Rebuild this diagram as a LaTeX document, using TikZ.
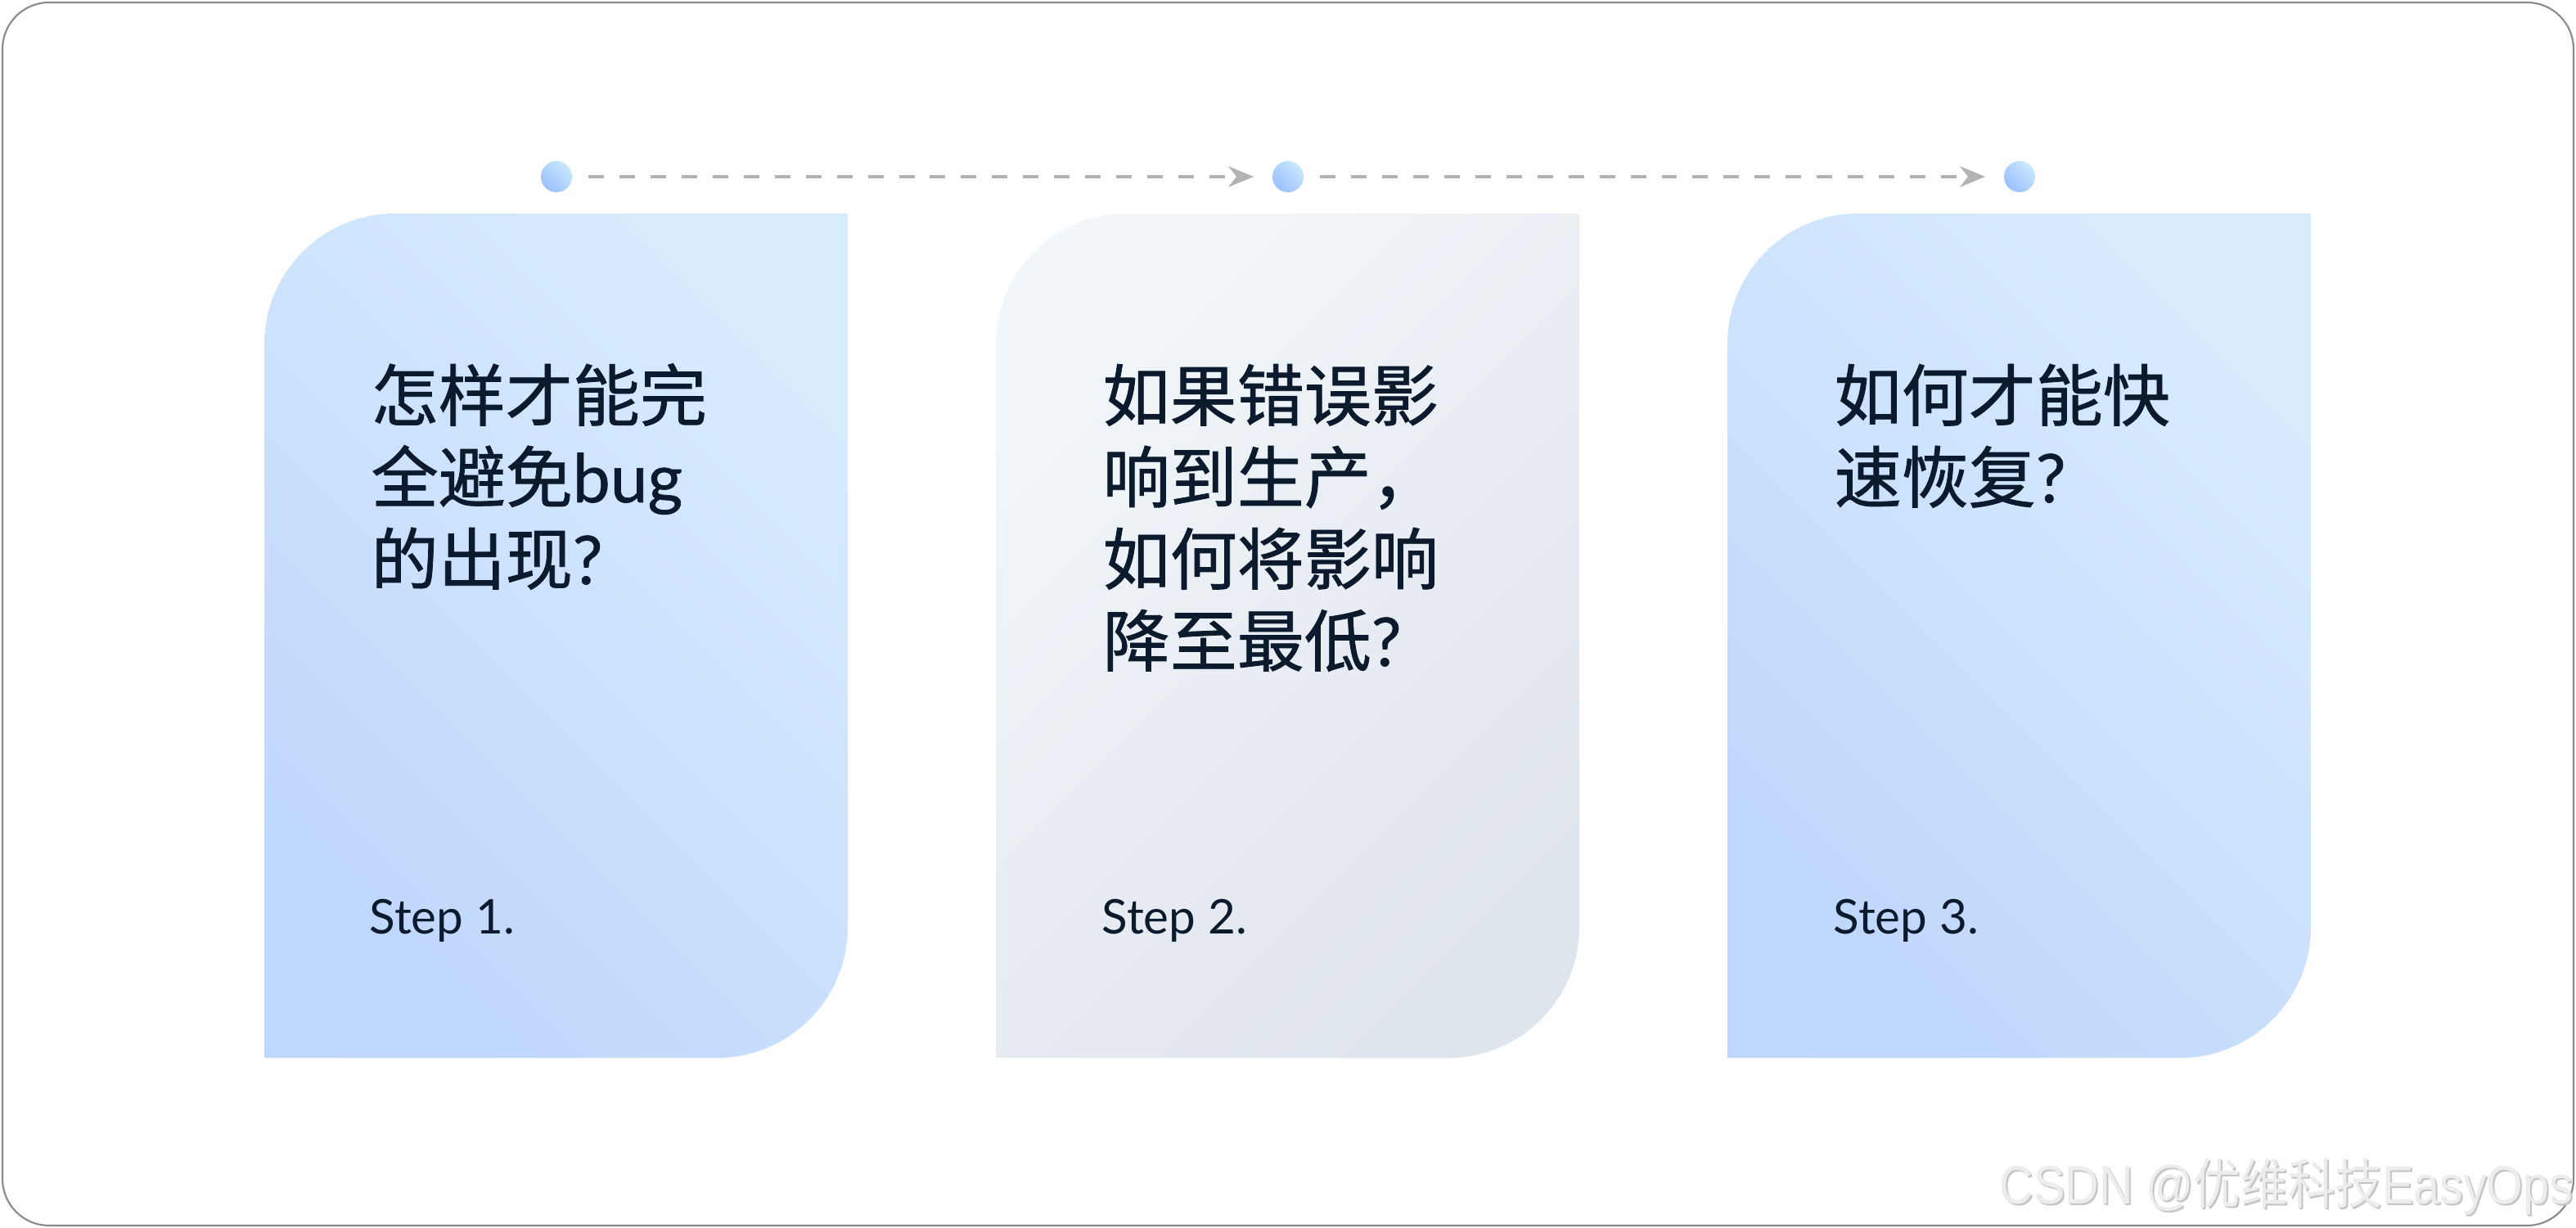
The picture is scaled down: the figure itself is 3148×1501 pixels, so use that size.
\documentclass[tikz,border=0pt]{standalone}
\usepackage{fontspec}
\setmainfont{Lato}
\newfontfamily\cjk{Noto Sans CJK SC}[FakeBold=1]
\newfontfamily\latm{Lato}[FakeBold=0.8]
\newfontfamily\wmcjk{Noto Sans CJK SC}
\newfontfamily\wmlat{Liberation Sans}
\usetikzlibrary{arrows.meta}
\definecolor{ink}{HTML}{0C1A2D}
\definecolor{frameg}{HTML}{8A8A8A}
\definecolor{blueA}{HTML}{D7ECFD}
\definecolor{blueB}{HTML}{C0D7FD}
\definecolor{grayA}{HTML}{F0F6F9}
\definecolor{grayB}{HTML}{DFE5EC}
\definecolor{dotA}{HTML}{C8E8FD}
\definecolor{dotB}{HTML}{9CC0FE}
\definecolor{arrowg}{HTML}{B3B3B3}
\definecolor{wmfill}{HTML}{EDEDED}
\definecolor{wmshade}{HTML}{C4C4C4}
\tikzset{
  frame/.style={draw=frameg, line width=0.6pt, rounded corners=0.57cm},
  bluecard/.style={top color=blueA, bottom color=blueB, shading angle=-45},
  graycard/.style={top color=grayA, bottom color=grayB, shading angle=45},
  dot/.style={circle, inner sep=0pt, minimum size=0.38cm, top color=dotA, bottom color=dotB, shading angle=-45},
  flow/.style={draw=arrowg, line width=1pt, dash pattern=on 5.4pt off 5.4pt,
    shorten <=5.4pt, shorten >=6.3pt,
    -{Stealth[length=8.8pt,width=7.2pt,inset=2.8pt,fill=arrowg]}},
  title/.style={anchor=base west, inner sep=0pt, text=ink, font=\fontsize{23.33pt}{28.45pt}\selectfont\cjk},
  steplabel/.style={anchor=base west, inner sep=0pt, text=ink, font=\fontsize{16.6pt}{20pt}\selectfont},
  wm/.style={anchor=base west, inner sep=0pt, xscale=0.87, transform shape, font=\fontsize{18.8pt}{22pt}\selectfont}
}
\newcommand\wmtext{{\wmlat CSDN @}{\wmcjk 优维科技}{\wmlat EasyOps}}
\begin{document}
\begin{tikzpicture}[x=0.01cm,y=0.01cm]
\useasboundingbox (0,0) rectangle (3148,1501);
\fill[white] (0,0) rectangle (3148,1501);
\draw[frame] (3,3) rectangle (3145,1498);

% cards
\shade[bluecard] (323,208) -- (323,1080) arc[start angle=180,end angle=90,radius=1.6cm] -- (1036,1240) -- (1036,368) arc[start angle=0,end angle=-90,radius=1.6cm] -- cycle;
\shade[graycard] (1217,208) -- (1217,1080) arc[start angle=180,end angle=90,radius=1.6cm] -- (1930,1240) -- (1930,368) arc[start angle=0,end angle=-90,radius=1.6cm] -- cycle;
\shade[bluecard] (2111,208) -- (2111,1080) arc[start angle=180,end angle=90,radius=1.6cm] -- (2824,1240) -- (2824,368) arc[start angle=0,end angle=-90,radius=1.6cm] -- cycle;

% dots and arrows
\node[dot] (d1) at (680,1285) {};
\node[dot] (d2) at (1574,1285) {};
\node[dot] (d3) at (2468,1285) {};
\draw[flow] (d1) -- (d2);
\draw[flow] (d2) -- (d3);

% card 1 text
\node[title] (t1a) at (453,987) {怎样才能完};
\node[title] (t1b) at (453,887) {全避免{\latm bug}};
\node[title] (t1c) at (453,787) {的出现{\latm ?}};
\node[steplabel] (s1) at (451,359) {Step 1.};

% card 2 text
\node[title] (t2a) at (1347,987) {如果错误影};
\node[title] (t2b) at (1347,887) {响到生产，};
\node[title] (t2c) at (1347,787) {如何将影响};
\node[title] (t2d) at (1347,687) {降至最低{\latm ?}};
\node[steplabel] (s2) at (1346,359) {Step 2.};

% card 3 text
\node[title] (t3a) at (2241,987) {如何才能快};
\node[title] (t3b) at (2241,887) {速恢复{\latm ?}};
\node[steplabel] (s3) at (2240,359) {Step 3.};

% watermark
\node[wm, text=wmshade] (wms) at (2445,27) {\wmtext};
\node[wm, text=wmfill] (wmt) at (2443,29) {\wmtext};
\end{tikzpicture}
\end{document}
